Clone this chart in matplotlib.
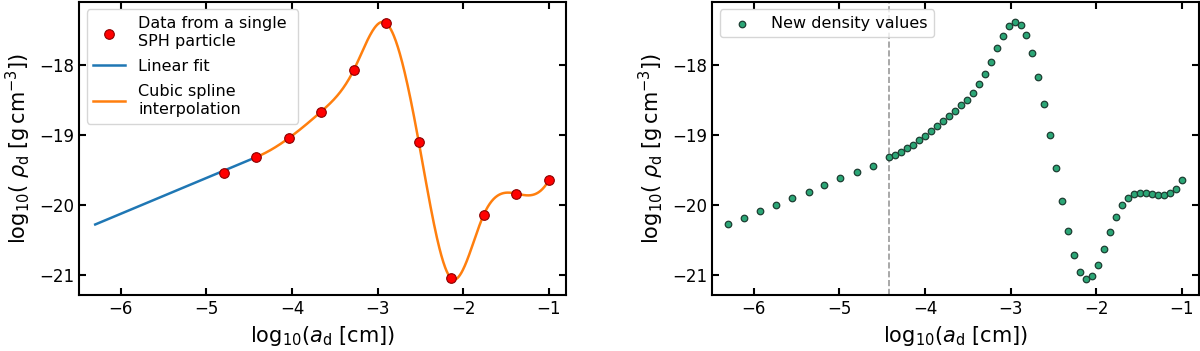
import numpy as np
import matplotlib
matplotlib.use("Agg")
import matplotlib.pyplot as plt

# ---------------- data ----------------
# single SPH particle (left panel, red dots)
sph_log_a = [-4.80, -4.42, -4.04, -3.66, -3.28, -2.90, -2.52, -2.14, -1.76, -1.38, -1.00]
sph_log_rho = [-19.55, -19.32, -19.05, -18.67, -18.08, -17.41, -19.10, -21.05, -20.14, -19.84, -19.65]

# linear fit (extrapolation to small grains)
fit_log_a = [-6.30, -4.42]
fit_log_rho = [-20.28, -19.32]

# new density values (right panel, green dots)
new_log_a_lin = [-6.30, -6.11, -5.93, -5.74, -5.55, -5.36, -5.18, -4.99, -4.80, -4.61]
new_log_rho_lin = [-20.28, -20.19, -20.09, -20.00, -19.90, -19.81, -19.71, -19.62, -19.53, -19.44]

new_log_a_spl = [-4.420, -4.350, -4.280, -4.211, -4.141, -4.071, -4.001, -3.931, -3.862, -3.792,
                 -3.722, -3.652, -3.582, -3.513, -3.443, -3.373, -3.303, -3.233, -3.164, -3.094,
                 -3.024, -2.954, -2.884, -2.815, -2.745, -2.675, -2.605, -2.535, -2.466, -2.396,
                 -2.326, -2.256, -2.186, -2.117, -2.047, -1.977, -1.907, -1.837, -1.768, -1.698,
                 -1.628, -1.558, -1.488, -1.419, -1.349, -1.279, -1.209, -1.139, -1.070, -1.000]
new_log_rho_spl = [-19.32, -19.29, -19.24, -19.19, -19.14, -19.08, -19.02, -18.95, -18.88, -18.81,
                   -18.73, -18.66, -18.58, -18.50, -18.40, -18.28, -18.13, -17.96, -17.77, -17.59,
                   -17.45, -17.39, -17.43, -17.58, -17.84, -18.17, -18.56, -19.01, -19.47, -19.94,
                   -20.37, -20.72, -20.96, -21.06, -21.02, -20.86, -20.63, -20.39, -20.17, -20.00,
                   -19.90, -19.85, -19.83, -19.83, -19.85, -19.86, -19.86, -19.83, -19.77, -19.65]

split_log_a = -4.42


def not_a_knot_spline(x, y, xs):
    x = np.asarray(x, float)
    y = np.asarray(y, float)
    n = len(x)
    h = np.diff(x)
    d = np.diff(y) / h
    A = np.zeros((n, n))
    b = np.zeros(n)
    A[0, 0] = -1.0 / h[0]
    A[0, 1] = 1.0 / h[0] + 1.0 / h[1]
    A[0, 2] = -1.0 / h[1]
    for i in range(1, n - 1):
        A[i, i - 1] = h[i - 1]
        A[i, i] = 2 * (h[i - 1] + h[i])
        A[i, i + 1] = h[i]
        b[i] = 6 * (d[i] - d[i - 1])
    A[-1, -3] = -1.0 / h[-2]
    A[-1, -2] = 1.0 / h[-2] + 1.0 / h[-1]
    A[-1, -1] = -1.0 / h[-1]
    M = np.linalg.solve(A, b)
    xs = np.asarray(xs, float)
    idx = np.clip(np.searchsorted(x, xs) - 1, 0, n - 2)
    x0, x1 = x[idx], x[idx + 1]
    hh = x1 - x0
    return (M[idx] * (x1 - xs) ** 3 / (6 * hh) + M[idx + 1] * (xs - x0) ** 3 / (6 * hh)
            + (y[idx] / hh - M[idx] * hh / 6) * (x1 - xs)
            + (y[idx + 1] / hh - M[idx + 1] * hh / 6) * (xs - x0))


spl_x = np.linspace(sph_log_a[1], sph_log_a[-1], 600)
spl_y = not_a_knot_spline(sph_log_a[1:], sph_log_rho[1:], spl_x)

# ---------------- figure ----------------
plt.rcParams['font.family'] = ['DejaVu Sans']
fig = plt.figure(figsize=(12, 3.51), dpi=100)
ax1 = fig.add_axes([0.0658, 0.1587, 0.4058, 0.8370])
ax2 = fig.add_axes([0.5933, 0.1587, 0.4058, 0.8370])

xlab = r'log$_{\mathrm{10}}$($a_{\mathrm{d}}$ [cm])'
ylab = r'log$_{\mathrm{10}}$( $\rho_{\mathrm{d}}$ [g$\,$cm$^{-3}$])'

ax1.plot(fit_log_a, fit_log_rho, color='#1f77b4', lw=1.8, label='Linear fit', zorder=2)
ax1.plot(spl_x, spl_y, color='#ff7f0e', lw=1.8, label='Cubic spline\ninterpolation', zorder=2)
ax1.scatter(sph_log_a, sph_log_rho, s=48, facecolor='red', edgecolor='#8b0000', lw=0.8,
            label='Data from a single \nSPH particle', zorder=3)
h, l = ax1.get_legend_handles_labels()
order = [2, 0, 1]
leg1 = ax1.legend([h[i] for i in order], [l[i] for i in order], loc='upper left', fontsize=11.5,
                  borderaxespad=0.5, labelspacing=0.6)
for t in leg1.get_texts():
    t.set_linespacing(1.3)

ax2.axvline(split_log_a, color='#999999', ls='--', lw=1.2, zorder=1)
ax2.scatter(new_log_a_lin + new_log_a_spl, new_log_rho_lin + new_log_rho_spl, s=22,
            facecolor='#2ba676', edgecolor='#1d3d32', lw=0.9, label='New density values', zorder=3)
ax2.legend(loc='upper left', fontsize=11.5, borderaxespad=0.5)

for ax in (ax1, ax2):
    ax.set_xlim(-6.49, -0.80)
    ax.set_ylim(-21.29, -17.10)
    ax.set_xticks([-6, -5, -4, -3, -2, -1])
    ax.set_yticks([-21, -20, -19, -18])
    ax.tick_params(direction='in', top=True, right=True, labelsize=12, length=5, width=1.5)
    for sp in ax.spines.values():
        sp.set_linewidth(1.5)
    ax.set_xlabel(xlab, fontsize=15)
    ax.set_ylabel(ylab, fontsize=15)

fig.savefig('out.png', dpi=100)
